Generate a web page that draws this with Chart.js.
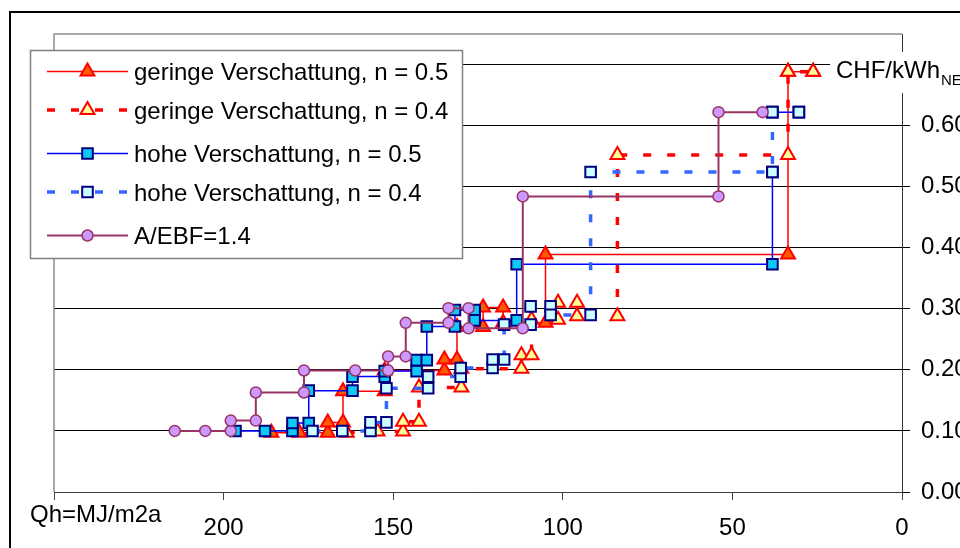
<!DOCTYPE html>
<html>
<head>
<meta charset="utf-8">
<script src="https://cdn.jsdelivr.net/npm/chart.js@4/dist/chart.umd.min.js"></script>
<style>
  html, body { margin: 0; padding: 0; background: #fff; overflow: hidden; }
  #wrap { position: relative; width: 960px; height: 548px; }
</style>
</head>
<body>
<div id="wrap"><canvas id="c" width="960" height="548"></canvas></div>
<script>
// Heizwärmebedarf Qh (MJ/m2a) gegen Kosten (CHF/kWh NE), Treppenkurven je Variante

const seriesNames = [
  'geringe Verschattung, n = 0.5',
  'geringe Verschattung, n = 0.4',
  'hohe Verschattung, n = 0.5',
  'hohe Verschattung, n = 0.4',
  'A/EBF=1.4'
];

const geringe05X = [185.9, 177.7, 169.3, 169.3, 164.8, 164.8, 152.5, 152.5, 134.9, 134.9, 131.2, 131.2, 123.5, 123.5, 117.6, 117.6, 105.1, 105.1, 33.6, 33.6, 26.2];
const geringe05Y = [0.097, 0.097, 0.097, 0.114, 0.114, 0.165, 0.165, 0.199, 0.199, 0.217, 0.217, 0.270, 0.270, 0.302, 0.302, 0.277, 0.277, 0.389, 0.389, 0.688, 0.688];

const geringe04X = [163.7, 154.6, 147.1, 147.1, 142.4, 142.4, 129.9, 129.9, 112.2, 112.2, 109.2, 109.2, 101.4, 101.4, 95.8, 95.8, 83.9, 83.9, 33.6, 33.6, 26.2];
const geringe04Y = [0.097, 0.099, 0.099, 0.115, 0.115, 0.171, 0.171, 0.202, 0.202, 0.224, 0.224, 0.282, 0.282, 0.310, 0.310, 0.288, 0.288, 0.552, 0.552, 0.688, 0.688];

const hohe05X = [196.5, 187.8, 179.7, 179.7, 174.9, 174.9, 162.0, 162.0, 152.5, 152.5, 143.1, 143.1, 140.1, 140.1, 131.8, 131.8, 126.0, 126.0, 113.6, 113.6, 38.2, 38.2, 38.2, 38.2, 30.4];
const hohe05Y = [0.100, 0.100, 0.100, 0.113, 0.113, 0.166, 0.166, 0.189, 0.189, 0.198, 0.198, 0.216, 0.216, 0.271, 0.271, 0.298, 0.298, 0.281, 0.281, 0.373, 0.373, 0.524, null, 0.622, 0.622];

const hohe04X = [173.8, 165.0, 156.7, 156.7, 152.0, 152.0, 139.7, 139.7, 130.1, 130.1, 120.7, 120.7, 117.3, 117.3, 109.5, 109.5, 103.6, 103.6, 91.8, 91.8, 38.2, 38.2, 30.4];
const hohe04Y = [0.100, 0.100, 0.100, 0.114, 0.114, 0.170, 0.170, 0.189, 0.189, 0.203, 0.203, 0.217, 0.217, 0.274, 0.274, 0.304, 0.304, 0.290, 0.290, 0.524, 0.524, 0.622, 0.622];

const aebfX = [214.4, 205.4, 197.9, 197.9, 190.5, 190.5, 176.3, 176.3, 161.2, 151.5, 151.5, 146.3, 146.3, 133.7, 133.7, 127.8, 127.8, 111.8, 111.8, 54.1, 54.1, 41.1];
const aebfY = [0.100, 0.100, 0.100, 0.117, 0.117, 0.163, 0.163, 0.199, 0.199, 0.199, 0.222, 0.222, 0.277, 0.277, 0.301, 0.301, 0.268, 0.268, 0.484, 0.484, 0.622, 0.622];

const xTickValues = [0, 50, 100, 150, 200, 250];
const yTickValues = [0, 0.1, 0.2, 0.3, 0.4, 0.5, 0.6, 0.7];

const xAxisTitle = 'Qh=MJ/m2a';
const yUnitMain = 'CHF/kWh';
const yUnitSub = 'NE';

const FONT = "'Liberation Sans', Arial, sans-serif";

function toPoints(xs, ys) {
  return xs.map((x, i) => ({ x: x, y: ys[i] }));
}

// visual styles per series (line + marker)
const styles = [
  { line: '#ff0000', width: 1.5, dash: [], point: 'triangle', radius: 8, fill: '#ff5a00', stroke: '#ff0000', pw: 2 },
  { line: '#ff0000', width: 3.5, dash: [8, 16], point: 'triangle', radius: 8, fill: '#ffff99', stroke: '#ff0000', pw: 2 },
  { line: '#0000ff', width: 1.5, dash: [], point: 'rect', radius: 7.5, fill: '#10c8f4', stroke: '#000080', pw: 2 },
  { line: '#3366ff', width: 3.5, dash: [8, 16], point: 'rect', radius: 7.5, fill: '#ccffff', stroke: '#000080', pw: 2 },
  { line: '#993366', width: 2, dash: [], point: 'circle', radius: 5.5, fill: '#cc99ff', stroke: '#993366', pw: 1.5 }
];

const seriesData = [
  toPoints(geringe05X, geringe05Y),
  toPoints(geringe04X, geringe04Y),
  toPoints(hohe05X, hohe05Y),
  toPoints(hohe04X, hohe04Y),
  toPoints(aebfX, aebfY)
];

const datasets = seriesData.map((data, i) => {
  const s = styles[i];
  return {
    label: seriesNames[i],
    data: data,
    showLine: true,
    spanGaps: false,
    fill: false,
    tension: 0,
    borderColor: s.line,
    borderWidth: s.width,
    borderDash: s.dash,
    pointStyle: s.point,
    pointRadius: s.radius,
    pointHoverRadius: s.radius,
    pointBackgroundColor: s.fill,
    pointBorderColor: s.stroke,
    pointBorderWidth: s.pw,
    order: 5 - i
  };
});

// marker for the legend samples, same geometry as the chart's point styles
function legendMarker(ctx, s, x, y) {
  const r = s.radius;
  ctx.beginPath();
  if (s.point === 'triangle') {
    for (let k = 0; k < 3; k++) {
      const ang = k * 2 * Math.PI / 3;
      const px = x + Math.sin(ang) * r;
      const py = y - Math.cos(ang) * r;
      if (k === 0) ctx.moveTo(px, py); else ctx.lineTo(px, py);
    }
    ctx.closePath();
  } else if (s.point === 'rect') {
    const h = r * Math.SQRT1_2;
    ctx.rect(x - h, y - h, 2 * h, 2 * h);
  } else {
    ctx.arc(x, y, r, 0, Math.PI * 2);
  }
  ctx.fillStyle = s.fill;
  ctx.fill();
  ctx.strokeStyle = s.stroke;
  ctx.lineWidth = s.pw;
  ctx.stroke();
}

const decorations = {
  id: 'decorations',
  beforeDraw(chart) {
    const ctx = chart.ctx;
    ctx.save();
    ctx.fillStyle = '#ffffff';
    ctx.fillRect(0, 0, chart.width, chart.height);
    // outer frame
    ctx.strokeStyle = '#000000';
    ctx.lineWidth = 2;
    ctx.beginPath();
    ctx.moveTo(10, chart.height + 2);
    ctx.lineTo(10, 12);
    ctx.lineTo(chart.width + 2, 12);
    ctx.stroke();
    ctx.restore();
  },
  afterDraw(chart) {
    const ctx = chart.ctx;
    const a = chart.chartArea;
    ctx.save();
    // plot frame, top and left
    ctx.strokeStyle = '#8c8c8c';
    ctx.lineWidth = 1.5;
    ctx.beginPath();
    ctx.moveTo(a.left, a.bottom);
    ctx.lineTo(a.left, a.top);
    ctx.lineTo(a.right, a.top);
    ctx.stroke();

    // unit label at the top of the value axis
    ctx.fillStyle = '#ffffff';
    ctx.fillRect(830, 52, 140, 41);
    ctx.fillStyle = '#000000';
    ctx.font = '24px ' + FONT;
    ctx.textBaseline = 'alphabetic';
    ctx.textAlign = 'left';
    ctx.fillText(yUnitMain, 836, 78);
    const w = ctx.measureText(yUnitMain).width;
    ctx.font = '15px ' + FONT;
    ctx.fillText(yUnitSub, 836 + w + 1, 85);

    // axis title at the lower left
    ctx.font = '24px ' + FONT;
    ctx.fillText(xAxisTitle, 30, 522);

    // legend
    const lx = 30.5, ly = 50.5, lw = 432, lh = 208;
    ctx.fillStyle = '#ffffff';
    ctx.fillRect(lx, ly, lw, lh);
    ctx.strokeStyle = '#808080';
    ctx.lineWidth = 1.5;
    ctx.strokeRect(lx, ly, lw, lh);
    const rows = [71.5, 110, 153.5, 192, 235.5];
    rows.forEach((yy, i) => {
      const s = styles[i];
      ctx.save();
      ctx.strokeStyle = s.line;
      ctx.lineWidth = s.width;
      ctx.setLineDash(s.dash);
      ctx.beginPath();
      ctx.moveTo(47, yy);
      ctx.lineTo(128, yy);
      ctx.stroke();
      ctx.restore();
      ctx.save();
      legendMarker(ctx, s, 87.5, yy);
      ctx.restore();
      ctx.fillStyle = '#000000';
      ctx.font = '24px ' + FONT;
      ctx.textBaseline = 'alphabetic';
      ctx.fillText(seriesNames[i], 134, yy + 8.6);
    });
    ctx.restore();
  }
};

new Chart(document.getElementById('c'), {
  type: 'scatter',
  data: { datasets: datasets },
  plugins: [decorations],
  options: {
    responsive: false,
    animation: false,
    devicePixelRatio: 1,
    layout: { padding: { left: 54, top: 34, right: 0, bottom: 0 } },
    plugins: {
      legend: { display: false },
      tooltip: { enabled: false }
    },
    scales: {
      x: {
        type: 'linear',
        position: 'bottom',
        reverse: true,
        min: 0,
        max: 250,
        afterFit(scale) { scale.height = 56; },
        afterBuildTicks(scale) { scale.ticks = xTickValues.map(v => ({ value: v })); },
        ticks: {
          font: { family: FONT, size: 24 },
          color: '#000000',
          padding: 14,
          maxRotation: 0,
          autoSkip: false,
          callback: (v) => (v === 250 ? '' : String(v))
        },
        grid: { drawOnChartArea: false, drawTicks: true, tickLength: 8, color: '#404040', lineWidth: 1 },
        border: { display: true, color: '#404040', width: 1 }
      },
      y: {
        type: 'linear',
        position: 'right',
        min: 0,
        max: 0.75,
        afterFit(scale) { scale.width = 58; },
        afterBuildTicks(scale) { scale.ticks = yTickValues.map(v => ({ value: v })); },
        ticks: {
          font: { family: FONT, size: 24 },
          color: '#000000',
          padding: 11,
          autoSkip: false,
          callback: (v) => (v < 0.65 ? v.toFixed(2) : '')
        },
        grid: { color: '#000000', lineWidth: 1, drawTicks: true, tickLength: 8 },
        border: { display: true, color: '#333333', width: 1 }
      }
    }
  }
});
</script>
</body>
</html>
